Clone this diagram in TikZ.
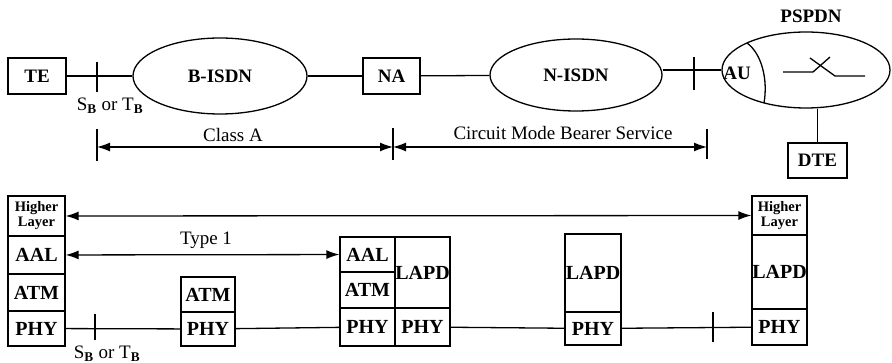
\documentclass[tikz,border=0pt]{standalone}
\usepackage{fontspec}
\setmainfont{Liberation Serif}
\usetikzlibrary{arrows.meta,shapes.geometric}
\tikzset{
box/.style={draw,line width=1.3pt,inner sep=0pt,font=\bfseries\fontsize{19}{21}\selectfont},
net/.style={box,ellipse},
layer/.style={draw,line width=1.3pt,inner sep=0pt,font=\bfseries\fontsize{20}{22}\selectfont},
hlayer/.style={layer,align=center,font=\bfseries\fontsize{14.5}{15}\selectfont},
lbl/.style={inner sep=0pt,font=\fontsize{19}{21}\selectfont},
}
\newcommand{\sbtb}{S\textsubscript{\textbf{B}} or T\textsubscript{\textbf{B}}}
\begin{document}
\begin{tikzpicture}[>={Latex[length=13pt,width=9pt]},x=1pt,y=-1pt,line width=1.3pt]
\useasboundingbox (0,0) rectangle (892,363);

\node[box,minimum width=58pt,minimum height=36pt] (te) at (37,76) {TE};
\node[net,minimum width=174pt,minimum height=76pt] (bisdn) at (220,76) {B-ISDN};
\node[box,minimum width=57pt,minimum height=36pt] (na) at (391.5,76) {NA};
\node[net,minimum width=172pt,minimum height=72pt] (nisdn) at (576,75) {N-ISDN};
\node[net,minimum width=168pt,minimum height=76pt] (pspdn) at (806,70) {};
\node[box,draw=none] (pspdnlbl) at (811,16) {PSPDN};
\node[box,draw=none] (au) at (737,73) {AU};
\node[box,minimum width=59pt,minimum height=35pt] (dte) at (817.5,160.5) {DTE};

\draw (te) -- (bisdn);
\draw (bisdn) -- (na);
\draw (na) -- (nisdn);
\draw (nisdn.east |- pspdn.west) -- (pspdn.west);
\draw (dte) -- (dte |- pspdn.south);

\draw (97,62) -- (97,92);
\draw (694,57) -- (694,90);
\node[lbl,anchor=base] (sbtop) at (110,111) {\sbtb};

\draw (747,43) .. controls (762,54) and (768,80) .. (764,103);
\draw (783,72) -- (813,72) -- (830,57);
\draw (810,58) -- (835,76) -- (865,76);

\coordinate (dA) at (97,147);
\coordinate (dB) at (393,147);
\coordinate (dC) at (707,147);
\draw (dA) ++(0,-18) -- ++(0,32);
\draw (dB) ++(0,-19) -- ++(0,32);
\draw (dC) ++(0,-18) -- ++(0,30);
\draw[<->] (dA) -- (dB);
\draw[<->] (dB) -- (dC);
\node[lbl,anchor=base] (classa) at (233,142) {Class A};
\node[lbl,anchor=base] (cmbs) at (563,140) {Circuit Mode Bearer Service};

\node[hlayer,minimum width=57pt,minimum height=40pt] (lhl) at (36.5,216) {Higher\\Layer};
\node[layer,minimum width=57pt,minimum height=38pt] (laal) at (36.5,255) {AAL};
\node[layer,minimum width=57pt,minimum height=37pt] (latm) at (36.5,292.5) {ATM};
\node[layer,minimum width=57pt,minimum height=35pt] (lphy) at (36.5,328.5) {PHY};

\node[layer,minimum width=54pt,minimum height=35pt] (swatm) at (208,294.5) {ATM};
\node[layer,minimum width=54pt,minimum height=34pt] (swphy) at (208,329) {PHY};

\node[layer,minimum width=55pt,minimum height=35pt] (naaal) at (367.5,254.5) {AAL};
\node[layer,minimum width=55pt,minimum height=36pt] (naatm) at (367.5,290) {ATM};
\node[layer,minimum width=55pt,minimum height=38pt] (naphy) at (367.5,327) {PHY};
\node[layer,minimum width=55pt,minimum height=71pt] (nalapd) at (422.5,272.5) {LAPD};
\node[layer,minimum width=55pt,minimum height=38pt] (naphyb) at (422.5,327) {PHY};

\node[layer,minimum width=56pt,minimum height=78pt] (mlapd) at (593,273) {LAPD};
\node[layer,minimum width=56pt,minimum height=33pt] (mphy) at (593,328.5) {PHY};

\node[hlayer,minimum width=55pt,minimum height=39pt] (rhl) at (779.5,215.5) {Higher\\Layer};
\node[layer,minimum width=55pt,minimum height=74pt] (rlapd) at (779.5,272) {LAPD};
\node[layer,minimum width=55pt,minimum height=36pt] (rphy) at (779.5,327) {PHY};

\draw[<->] (lhl) -- (rhl);
\draw[<->] (laal) -- (naaal);
\node[lbl,anchor=base] (type) at (206,245) {Type 1};

\draw (lphy) -- (swphy);
\draw (swphy) -- (naphy);
\draw (naphyb) -- (mphy);
\draw (mphy) -- (rphy);
\draw (95,314) -- (95,340);
\draw (713,312) -- (713,342);
\node[lbl,anchor=base] (sbbot) at (107,359) {\sbtb};
\end{tikzpicture}
\end{document}
